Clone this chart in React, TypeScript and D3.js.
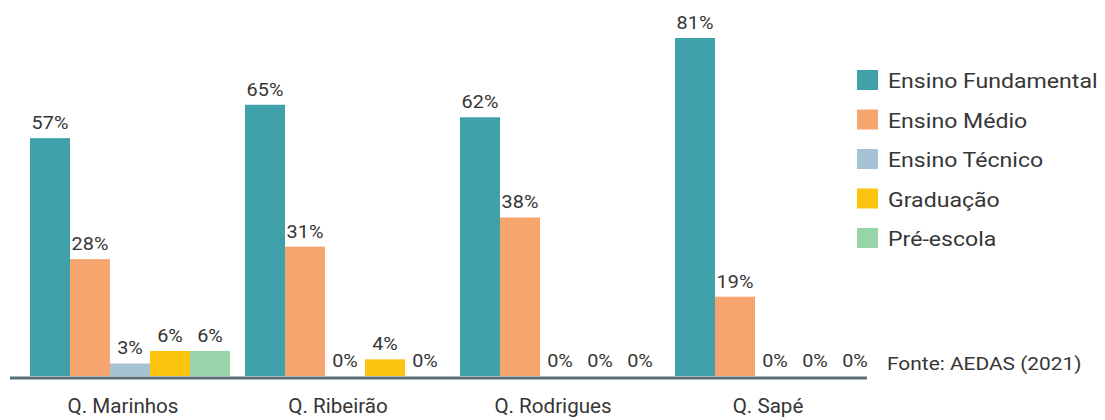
import React from "react";
import * as d3 from "d3";

// Percentage of residents by education level, per community
const categories = ["Q. Marinhos", "Q. Ribeirão", "Q. Rodrigues", "Q. Sapé"];
const seriesNames = ["Ensino Fundamental", "Ensino Médio", "Ensino Técnico", "Graduação", "Pré-escola"];
const seriesColors = ["#40a1aa", "#f6a56f", "#a5c3d5", "#fcc40f", "#98d4aa"];

const ensinoFundamental = [57, 65, 62, 81];
const ensinoMedio = [28, 31, 38, 19];
const ensinoTecnico = [3, 0, 0, 0];
const graduacao = [6, 4, 0, 0];
const preEscola = [6, 0, 0, 0];

const seriesValues = [ensinoFundamental, ensinoMedio, ensinoTecnico, graduacao, preEscola];

const sourceNote = "Fonte: AEDAS (2021)";

const W = 1105;
const H = 420;
const FONT = "Roboto, 'Noto Sans', sans-serif";
const TEXT = "#363636";

// Text with a slightly widened glyph shape
function WideText(props: {
  x: number;
  y: number;
  size: number;
  sx?: number;
  anchor?: "start" | "middle" | "end";
  children: React.ReactNode;
}) {
  const { x, y, size, sx = 1.1, anchor = "start", children } = props;
  return (
    <text
      transform={`translate(${x},${y}) scale(${sx},1)`}
      textAnchor={anchor}
      fontFamily={FONT}
      fontSize={size}
      fill={TEXT}
    >
      {children}
    </text>
  );
}

export default function App() {
  const baseline = 376;
  const groupX = d3.scalePoint<string>().domain(categories).range([30, 675]);
  const barX = d3.scaleBand<string>().domain(seriesNames).range([0, 200]).padding(0);
  const y = d3.scaleLinear().domain([0, 81]).range([baseline, 38]);

  return (
    <svg width={W} height={H} style={{ position: "absolute", left: 0, top: 0, background: "#fff" }}>
      {/* bars and value labels */}
      {categories.map((cat, ci) => (
        <g key={cat} transform={`translate(${groupX(cat)},0)`}>
          {seriesNames.map((s, si) => {
            const v = seriesValues[si][ci];
            const x = barX(s)!;
            const bw = barX.bandwidth();
            return (
              <g key={s}>
                {v > 0 && (
                  <rect x={x} y={y(v)} width={bw} height={baseline - y(v)} fill={seriesColors[si]} />
                )}
                <WideText x={x + bw / 2} y={y(v) - 9} size={18} sx={1.1} anchor="middle">
                  {v}%
                </WideText>
              </g>
            );
          })}
          <WideText x={93} y={413} size={20} sx={1.03} anchor="middle">
            {cat}
          </WideText>
        </g>
      ))}

      {/* baseline axis */}
      <line x1={10} x2={867} y1={378} y2={378} stroke="#5b6f7b" strokeWidth={3} />

      {/* legend */}
      {seriesNames.map((s, i) => (
        <g key={s} transform={`translate(857,${70 + i * 39.5})`}>
          <rect width={21} height={20} fill={seriesColors[i]} />
          <WideText x={31} y={18} size={21} sx={1.1}>
            {s}
          </WideText>
        </g>
      ))}

      <WideText x={887} y={370} size={19} sx={1.1}>
        {sourceNote}
      </WideText>
    </svg>
  );
}
